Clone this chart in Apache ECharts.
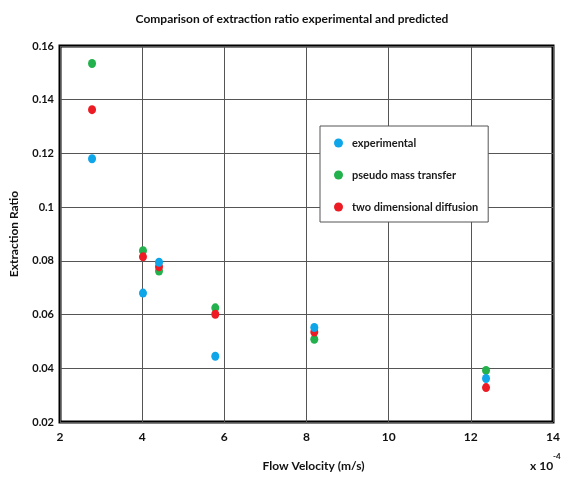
<!DOCTYPE html>
<html>
<head>
<meta charset="utf-8">
<script src="https://cdn.jsdelivr.net/npm/echarts@6/dist/echarts.min.js"></script>
<style>html,body{margin:0;padding:0;background:#fff}#c{width:565px;height:479px}</style>
</head>
<body>
<div id="c"></div>
<script>
var velocity = [2.78, 4.02, 4.41, 5.78, 8.19, 12.37];
var experimental = [0.118, 0.068, 0.0795, 0.0445, 0.0552, 0.0362];
var pseudoMassTransfer = [0.1535, 0.0838, 0.0762, 0.0625, 0.0508, 0.0392];
var twoDimDiffusion = [0.1363, 0.0815, 0.0778, 0.0601, 0.0535, 0.0328];
var seriesNames = ['experimental', 'pseudo mass transfer', 'two dimensional diffusion'];
var xTicks = [2, 4, 6, 8, 10, 12, 14];
var yTicks = [0.02, 0.04, 0.06, 0.08, 0.1, 0.12, 0.14, 0.16];

function pairs(ys) { return velocity.map(function (x, i) { return [x, ys[i]]; }); }

var FONT = 'Lato';
var chart = echarts.init(document.getElementById('c'));
chart.setOption({
  animation: false,
  backgroundColor: '#fff',
  title: {
    text: 'Comparison of extraction ratio experimental and predicted',
    left: 287, top: 8, textAlign: 'center',
    textStyle: { fontFamily: FONT, fontSize: 12, fontWeight: 'bold', color: '#111' }
  },
  legend: {
    orient: 'vertical',
    left: 320, top: 126,
    padding: [11, 10, 9, 14],
    backgroundColor: '#fff',
    borderColor: '#555', borderWidth: 1,
    itemWidth: 17, itemHeight: 9, itemGap: 20,
    icon: 'circle',
    data: seriesNames,
    textStyle: { fontFamily: FONT, fontSize: 11, fontWeight: 'bold', color: '#1a1a1a', lineHeight: 12, width: 125 }
  },
  grid: {
    left: 56, top: 46, right: 12, bottom: 57,
    show: true, borderColor: '#000', borderWidth: 3, backgroundColor: 'transparent'
  },
  xAxis: {
    type: 'value', min: xTicks[0], max: xTicks[xTicks.length - 1], interval: 2,
    axisLine: { show: false }, axisTick: { show: false },
    splitLine: { show: true, lineStyle: { color: '#555', width: 1 } },
    axisLabel: { margin: 9, fontFamily: FONT, fontSize: 12, fontWeight: 'bold', color: '#111' },
    name: 'Flow Velocity (m/s)', nameLocation: 'middle', nameGap: 38,
    nameTextStyle: { fontFamily: FONT, fontSize: 12, fontWeight: 'bold', color: '#111', padding: [0, 0, 0, 14] }
  },
  yAxis: {
    type: 'value', min: yTicks[0], max: yTicks[yTicks.length - 1], interval: 0.02,
    axisLine: { show: false }, axisTick: { show: false },
    splitLine: { show: true, lineStyle: { color: '#555', width: 1 } },
    axisLabel: { margin: 6, fontFamily: FONT, fontSize: 11, fontWeight: 'bold', color: '#111',
      formatter: function (v) { return String(+v.toFixed(2)); } },
    name: 'Extraction Ratio', nameLocation: 'middle', nameGap: 40, nameRotate: 90,
    nameTextStyle: { fontFamily: FONT, fontSize: 12, fontWeight: 'bold', color: '#111' }
  },
  graphic: [{
    type: 'text', left: 530, top: 452,
    style: {
      text: '{a|x 10}{s|-4}',
      rich: {
        a: { fontFamily: FONT, fontSize: 12, fontWeight: 'bold', fill: '#111', verticalAlign: 'bottom', lineHeight: 20 },
        s: { fontFamily: FONT, fontSize: 8, fontWeight: 'bold', fill: '#111', verticalAlign: 'top', lineHeight: 12 }
      }
    }
  }],
  series: [
    { name: seriesNames[1], type: 'scatter', data: pairs(pseudoMassTransfer), symbolSize: [8, 9], itemStyle: { color: '#22b14c', opacity: 1 }, z: 2 },
    { name: seriesNames[2], type: 'scatter', data: pairs(twoDimDiffusion), symbolSize: [8, 9], itemStyle: { color: '#ed1c24', opacity: 1 }, z: 3 },
    { name: seriesNames[0], type: 'scatter', data: pairs(experimental), symbolSize: [8, 9], itemStyle: { color: '#0ea5e9', opacity: 1 }, z: 4 }
  ]
});
</script>
</body>
</html>
